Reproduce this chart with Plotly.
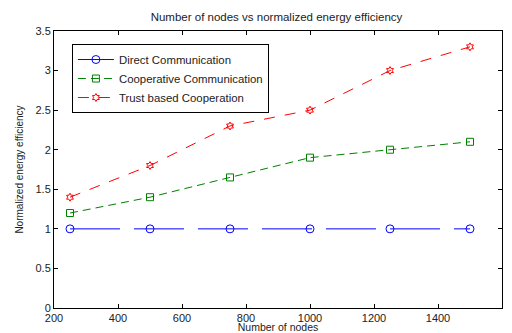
import plotly.graph_objects as go

nodes = [250, 500, 750, 1000, 1250, 1500]
direct = [1, 1, 1, 1, 1, 1]
cooperative = [1.2, 1.4, 1.65, 1.9, 2.0, 2.1]
trust = [1.4, 1.8, 2.3, 2.5, 3.0, 3.3]

FONT = "Liberation Sans, Arial"

fig = go.Figure()
fig.add_trace(go.Scatter(x=nodes, y=direct, mode="lines+markers", name="Direct Communication",
                         line=dict(color="blue", width=1, dash="50px,14px"),
                         marker=dict(symbol="circle-open", size=8, color="blue", line=dict(width=1))))
fig.add_trace(go.Scatter(x=nodes, y=cooperative, mode="lines+markers", name="Cooperative Communication",
                         line=dict(color="green", width=1, dash="8px,5px"),
                         marker=dict(symbol="square-open", size=7, color="green", line=dict(width=1))))
fig.add_trace(go.Scatter(x=nodes, y=trust, mode="lines+markers", name="Trust based Cooperation",
                         line=dict(color="red", width=1, dash="11px,10px"),
                         marker=dict(symbol="hexagram-open", size=6, color="red", line=dict(width=1))))

axis_common = dict(showline=True, linecolor="black", linewidth=1, mirror="ticks", ticks="inside",
                   ticklen=4, tickcolor="black", showgrid=False, zeroline=False, automargin=False,
                   tickfont=dict(family=FONT, size=11, color="#222"))
fig.update_xaxes(range=[200, 1600], dtick=200,
                 title=dict(text="Number of nodes", font=dict(size=10.5, family=FONT, color="#222"), standoff=9),
                 **axis_common)
fig.update_yaxes(range=[0, 3.5], dtick=0.5, tickformat="~g",
                 title=dict(text="Normalized energy efficiency", font=dict(size=10, family=FONT, color="#222"), standoff=10),
                 **axis_common)

fig.update_layout(
    width=512, height=333,
    margin=dict(l=54, r=10, t=31, b=25),
    paper_bgcolor="white", plot_bgcolor="white",
    title=dict(text="Number of nodes vs normalized energy efficiency", x=0.54, xanchor="center",
               y=0.95, yanchor="middle",
               font=dict(family=FONT, size=11.5, color="#222")),
    legend=dict(x=0.04, y=0.953, xanchor="left", yanchor="top", bordercolor="black", borderwidth=1,
                bgcolor="white", font=dict(family=FONT, size=11.4, color="#222"),
                itemwidth=36, tracegroupgap=0),
    font=dict(family=FONT, color="#222"),
)

post = ("document.body.style.margin='0';document.body.style.overflow='hidden';"
        "var gd=document.getElementById('{plot_id}');Plotly.relayout(gd,{width:512,height:333});")
fig.write_html("out.html", post_script=post, config={"displayModeBar": False})
